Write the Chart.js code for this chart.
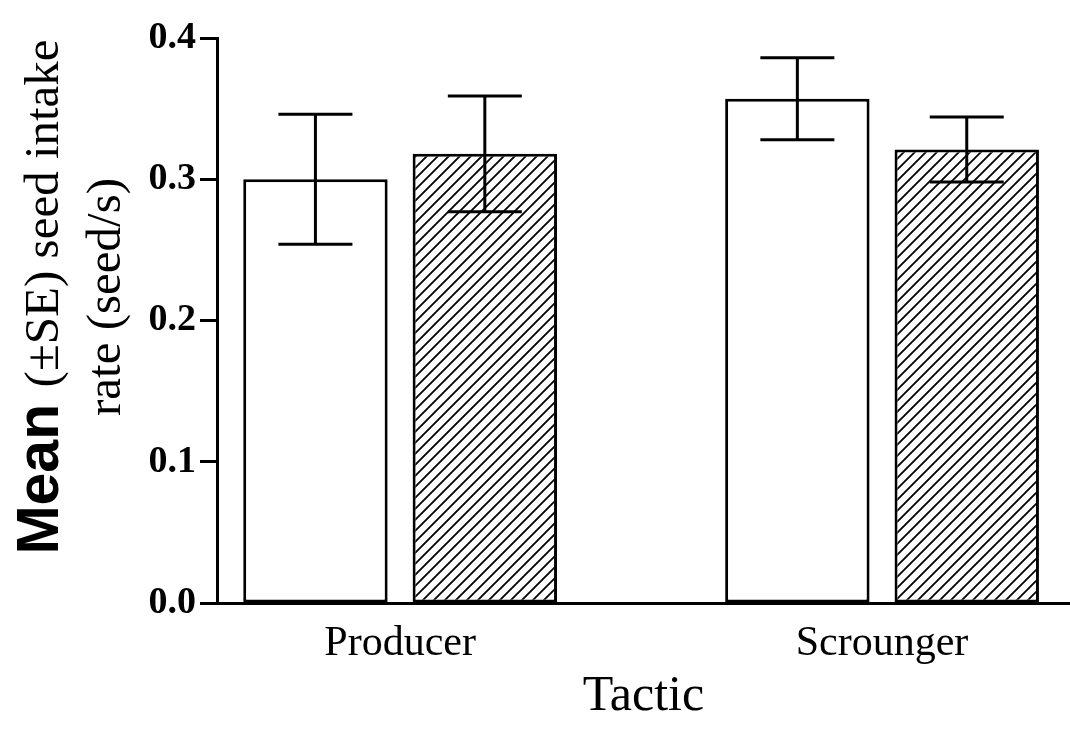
<!DOCTYPE html>
<html>
<head>
<meta charset="utf-8">
<script src="https://cdn.jsdelivr.net/npm/chart.js@4"></script>
<style>
  body { margin: 0; background: #fff; }
  #wrap { width: 1070px; height: 732px; }
</style>
</head>
<body>
<div id="wrap"><canvas id="chart"></canvas></div>
<script>
// data
const categories = ["Producer", "Scrounger"];
const catPos = [1, 2];
const yTicks = [0.0, 0.1, 0.2, 0.3, 0.4];
const openMeans = [0.300, 0.357];
const openSE = [0.046, 0.029];
const hatchMeans = [0.318, 0.321];
const hatchSE = [0.041, 0.023];

// diagonal hatch pattern
function makeHatch() {
  const c = document.createElement("canvas");
  c.width = 11;
  c.height = 11;
  const g = c.getContext("2d");
  g.fillStyle = "#fff";
  g.fillRect(0, 0, 11, 11);
  g.strokeStyle = "#000";
  g.lineWidth = 1.8;
  g.beginPath();
  g.moveTo(-2, 13); g.lineTo(13, -2);
  g.moveTo(-2, 2); g.lineTo(2, -2);
  g.moveTo(9, 13); g.lineTo(13, 9);
  g.stroke();
  return g.createPattern(c, "repeat");
}

// error bars drawn from the scales
const errorBars = {
  id: "errorBars",
  afterDatasetsDraw(chart) {
    const ctx = chart.ctx;
    const y = chart.scales.y;
    ctx.save();
    ctx.strokeStyle = "#000";
    ctx.lineWidth = 3;
    chart.data.datasets.forEach((ds, di) => {
      const meta = chart.getDatasetMeta(di);
      meta.data.forEach((bar, i) => {
        const m = ds.data[i].y;
        const se = ds.se[i];
        const top = y.getPixelForValue(m + se);
        const bot = y.getPixelForValue(m - se);
        const half = 37;
        ctx.beginPath();
        ctx.moveTo(bar.x, top); ctx.lineTo(bar.x, bot);
        ctx.moveTo(bar.x - half, top); ctx.lineTo(bar.x + half, top);
        ctx.moveTo(bar.x - half, bot); ctx.lineTo(bar.x + half, bot);
        ctx.stroke();
      });
    });
    ctx.restore();
  },
};

// y title with mixed fonts
const yTitle = {
  id: "yTitle",
  afterDraw(chart) {
    const ctx = chart.ctx;
    const cy = 297;
    ctx.save();
    ctx.fillStyle = "#000";
    ctx.textBaseline = "alphabetic";
    ctx.textAlign = "left";

    // line 1
    const f1 = "bold 59px 'Liberation Sans', Arial, sans-serif";
    const f2 = "49px 'Liberation Serif', 'Times New Roman', serif";
    const t1 = "Mean ";
    const t2 = "(±SE) seed intake";
    ctx.font = f1;
    const w1 = ctx.measureText(t1).width;
    ctx.font = f2;
    const w2 = ctx.measureText(t2).width;
    ctx.save();
    ctx.translate(58, cy);
    ctx.rotate(-Math.PI / 2);
    let x0 = -(w1 + w2) / 2;
    ctx.font = f1;
    ctx.fillText(t1, x0, 0);
    ctx.font = f2;
    ctx.fillText(t2, x0 + w1, 0);
    ctx.restore();

    // line 2
    ctx.save();
    ctx.translate(120, cy);
    ctx.rotate(-Math.PI / 2);
    ctx.font = f2;
    ctx.textAlign = "center";
    ctx.fillText("rate (seed/s)", 0, 0);
    ctx.restore();

    ctx.restore();
  },
};

const hatch = makeHatch();

new Chart(document.getElementById("chart"), {
  type: "bar",
  data: {
    datasets: [
      {
        label: "open",
        data: catPos.map((x, i) => ({ x: x, y: openMeans[i] })),
        se: openSE,
        backgroundColor: "#fff",
        borderColor: "#000",
        borderWidth: 3,
        borderSkipped: false,
      },
      {
        label: "hatched",
        data: catPos.map((x, i) => ({ x: x, y: hatchMeans[i] })),
        se: hatchSE,
        backgroundColor: hatch,
        borderColor: "#000",
        borderWidth: 3,
        borderSkipped: false,
      },
    ],
  },
  options: {
    responsive: true,
    maintainAspectRatio: false,
    animation: false,
    categoryPercentage: 0.703,
    barPercentage: 0.8525,
    layout: { padding: { top: 38, right: 0, left: 0, bottom: 0 } },
    plugins: { legend: { display: false }, tooltip: { enabled: false } },
    scales: {
      x: {
        type: "linear",
        offset: false,
        bounds: "data",
        min: 0.62,
        max: 2.39,
        afterBuildTicks: (s) => { s.ticks = catPos.map((v) => ({ value: v })); },
        afterFit: (s) => { s.height = 129; },
        grid: { display: false, offset: false },
        border: { display: true, color: "#000", width: 3 },
        ticks: {
          color: "#000",
          padding: 8,
          maxRotation: 0,
          font: { family: "'Liberation Serif', 'Times New Roman', serif", size: 42 },
          callback: (v) => categories[catPos.indexOf(v)] || "",
        },
        title: {
          display: true,
          text: "Tactic",
          color: "#000",
          padding: { top: 0, bottom: 5 },
          font: { family: "'Liberation Serif', 'Times New Roman', serif", size: 50 },
        },
      },
      y: {
        min: 0,
        max: 0.4,
        afterBuildTicks: (s) => { s.ticks = yTicks.map((v) => ({ value: v })); },
        afterFit: (s) => { s.width = 217; },
        grid: {
          display: true,
          drawOnChartArea: false,
          drawTicks: true,
          tickLength: 17,
          tickWidth: 3,
          tickColor: "#000",
        },
        border: { display: true, color: "#000", width: 3 },
        ticks: {
          color: "#000",
          padding: 4,
          font: { family: "'Liberation Serif', 'Times New Roman', serif", size: 38, weight: "bold" },
          callback: (v) => v.toFixed(1),
        },
      },
    },
  },
  plugins: [errorBars, yTitle],
});
</script>
</body>
</html>
